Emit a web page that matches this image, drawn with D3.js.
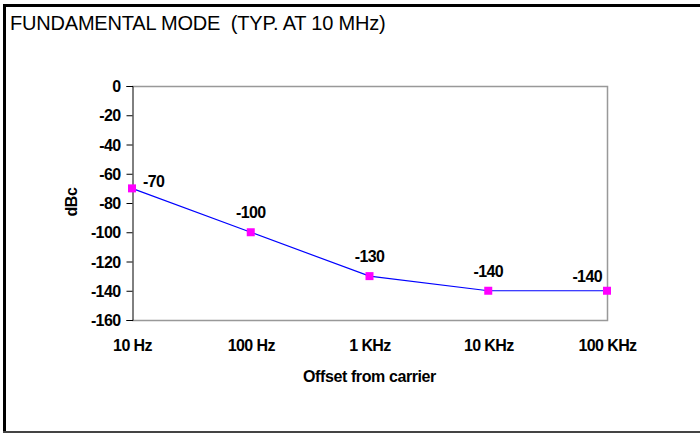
<!DOCTYPE html>
<meta charset="utf-8">
<style>
body { margin: 0; background: #fff; }
text { font-family: "Liberation Sans", Arial, sans-serif; fill: #000; }
.tick text { font-weight: bold; font-size: 16px; letter-spacing: -0.6px; }
</style>
<body>
<svg width="700" height="433"></svg>
<script src="https://cdnjs.cloudflare.com/ajax/libs/d3/7.8.5/d3.min.js"></script>
<script>

// chart values
var offsets = ["10 Hz", "100 Hz", "1 KHz", "10 KHz", "100 KHz"];
var dbc = [-70, -100, -130, -140, -140];
var yTicks = [0, -20, -40, -60, -80, -100, -120, -140, -160];

var svg = d3.select("svg");

// frame round the whole picture
svg.append("line").attr("x1", 4.5).attr("x2", 4.5).attr("y1", 4).attr("y2", 433)
    .attr("stroke", "#000").attr("stroke-width", 3);
svg.append("line").attr("x1", 3).attr("x2", 700).attr("y1", 5.5).attr("y2", 5.5)
    .attr("stroke", "#000").attr("stroke-width", 3);
svg.append("line").attr("x1", 3).attr("x2", 700).attr("y1", 432).attr("y2", 432)
    .attr("stroke", "#444").attr("stroke-width", 2);

svg.append("text")
    .attr("x", 10).attr("y", 30)
    .style("font-size", "20px")
    .style("letter-spacing", "-0.2px")
    .style("white-space", "pre")
    .text("FUNDAMENTAL MODE  (TYP. AT 10 MHz)");

var pLeft = 132, pRight = 607, pTop = 86, pBottom = 320;

var x = d3.scalePoint().domain(offsets).range([pLeft, pRight]);
var y = d3.scaleLinear().domain([-160, 0]).range([pBottom, pTop]);

// plot border (grey top / right / bottom)
svg.append("path")
    .attr("d", "M" + pLeft + "," + (pTop + 0.5) + "H" + (pRight + 0.5) + "V" + (pBottom + 0.5) + "H" + pLeft)
    .attr("fill", "none").attr("stroke", "#999").attr("stroke-width", 1.5);

var yAxis = svg.append("g")
    .attr("transform", "translate(" + (pLeft + 0.5) + ",0)")
    .call(d3.axisLeft(y).tickValues(yTicks).tickSize(6).tickPadding(6).tickFormat(String));
yAxis.select(".domain").attr("stroke", "#000");
yAxis.selectAll(".tick line").attr("stroke", "#000");
yAxis.selectAll(".tick text").attr("dy", "0.35em");

var xAxis = svg.append("g")
    .attr("transform", "translate(0," + pBottom + ")")
    .call(d3.axisBottom(x).tickSize(0).tickPadding(20));
xAxis.select(".domain").remove();

svg.append("text")
    .attr("x", (pLeft + pRight) / 2).attr("y", 382)
    .attr("text-anchor", "middle")
    .style("font-weight", "bold").style("font-size", "16px").style("letter-spacing", "-0.4px")
    .text("Offset from carrier");

svg.append("text")
    .attr("transform", "translate(77,202) rotate(-90)")
    .attr("text-anchor", "middle")
    .style("font-weight", "bold").style("font-size", "16px").style("letter-spacing", "-0.4px")
    .text("dBc");

var pts = offsets.map(function(o, i) { return { k: o, v: dbc[i] }; });

svg.append("path")
    .datum(pts)
    .attr("fill", "none")
    .attr("stroke", "#0000ff")
    .attr("stroke-width", 1.2)
    .attr("d", d3.line().x(function(d) { return x(d.k); }).y(function(d) { return y(d.v); }));

svg.selectAll(".pt")
    .data(pts)
    .enter().append("rect")
    .attr("class", "pt")
    .attr("x", function(d) { return x(d.k) - 4; })
    .attr("y", function(d) { return y(d.v) - 4; })
    .attr("width", 8).attr("height", 8)
    .attr("fill", "#ff00ff");

// data labels, end ones pushed inward like the original
var last = pts.length - 1;
svg.selectAll(".lbl")
    .data(pts)
    .enter().append("text")
    .attr("class", "lbl")
    .attr("x", function(d, i) { return i == 0 ? x(d.k) + 11 : i == last ? x(d.k) - 5 : x(d.k); })
    .attr("y", function(d, i) { return i == 0 ? y(d.v) - 1 : i == last ? y(d.v) - 9 : y(d.v) - 14; })
    .attr("text-anchor", function(d, i) { return i == 0 ? "start" : i == last ? "end" : "middle"; })
    .style("font-weight", "bold").style("font-size", "16px").style("letter-spacing", "-0.6px")
    .text(function(d) { return d.v; });

</script>
</body>
